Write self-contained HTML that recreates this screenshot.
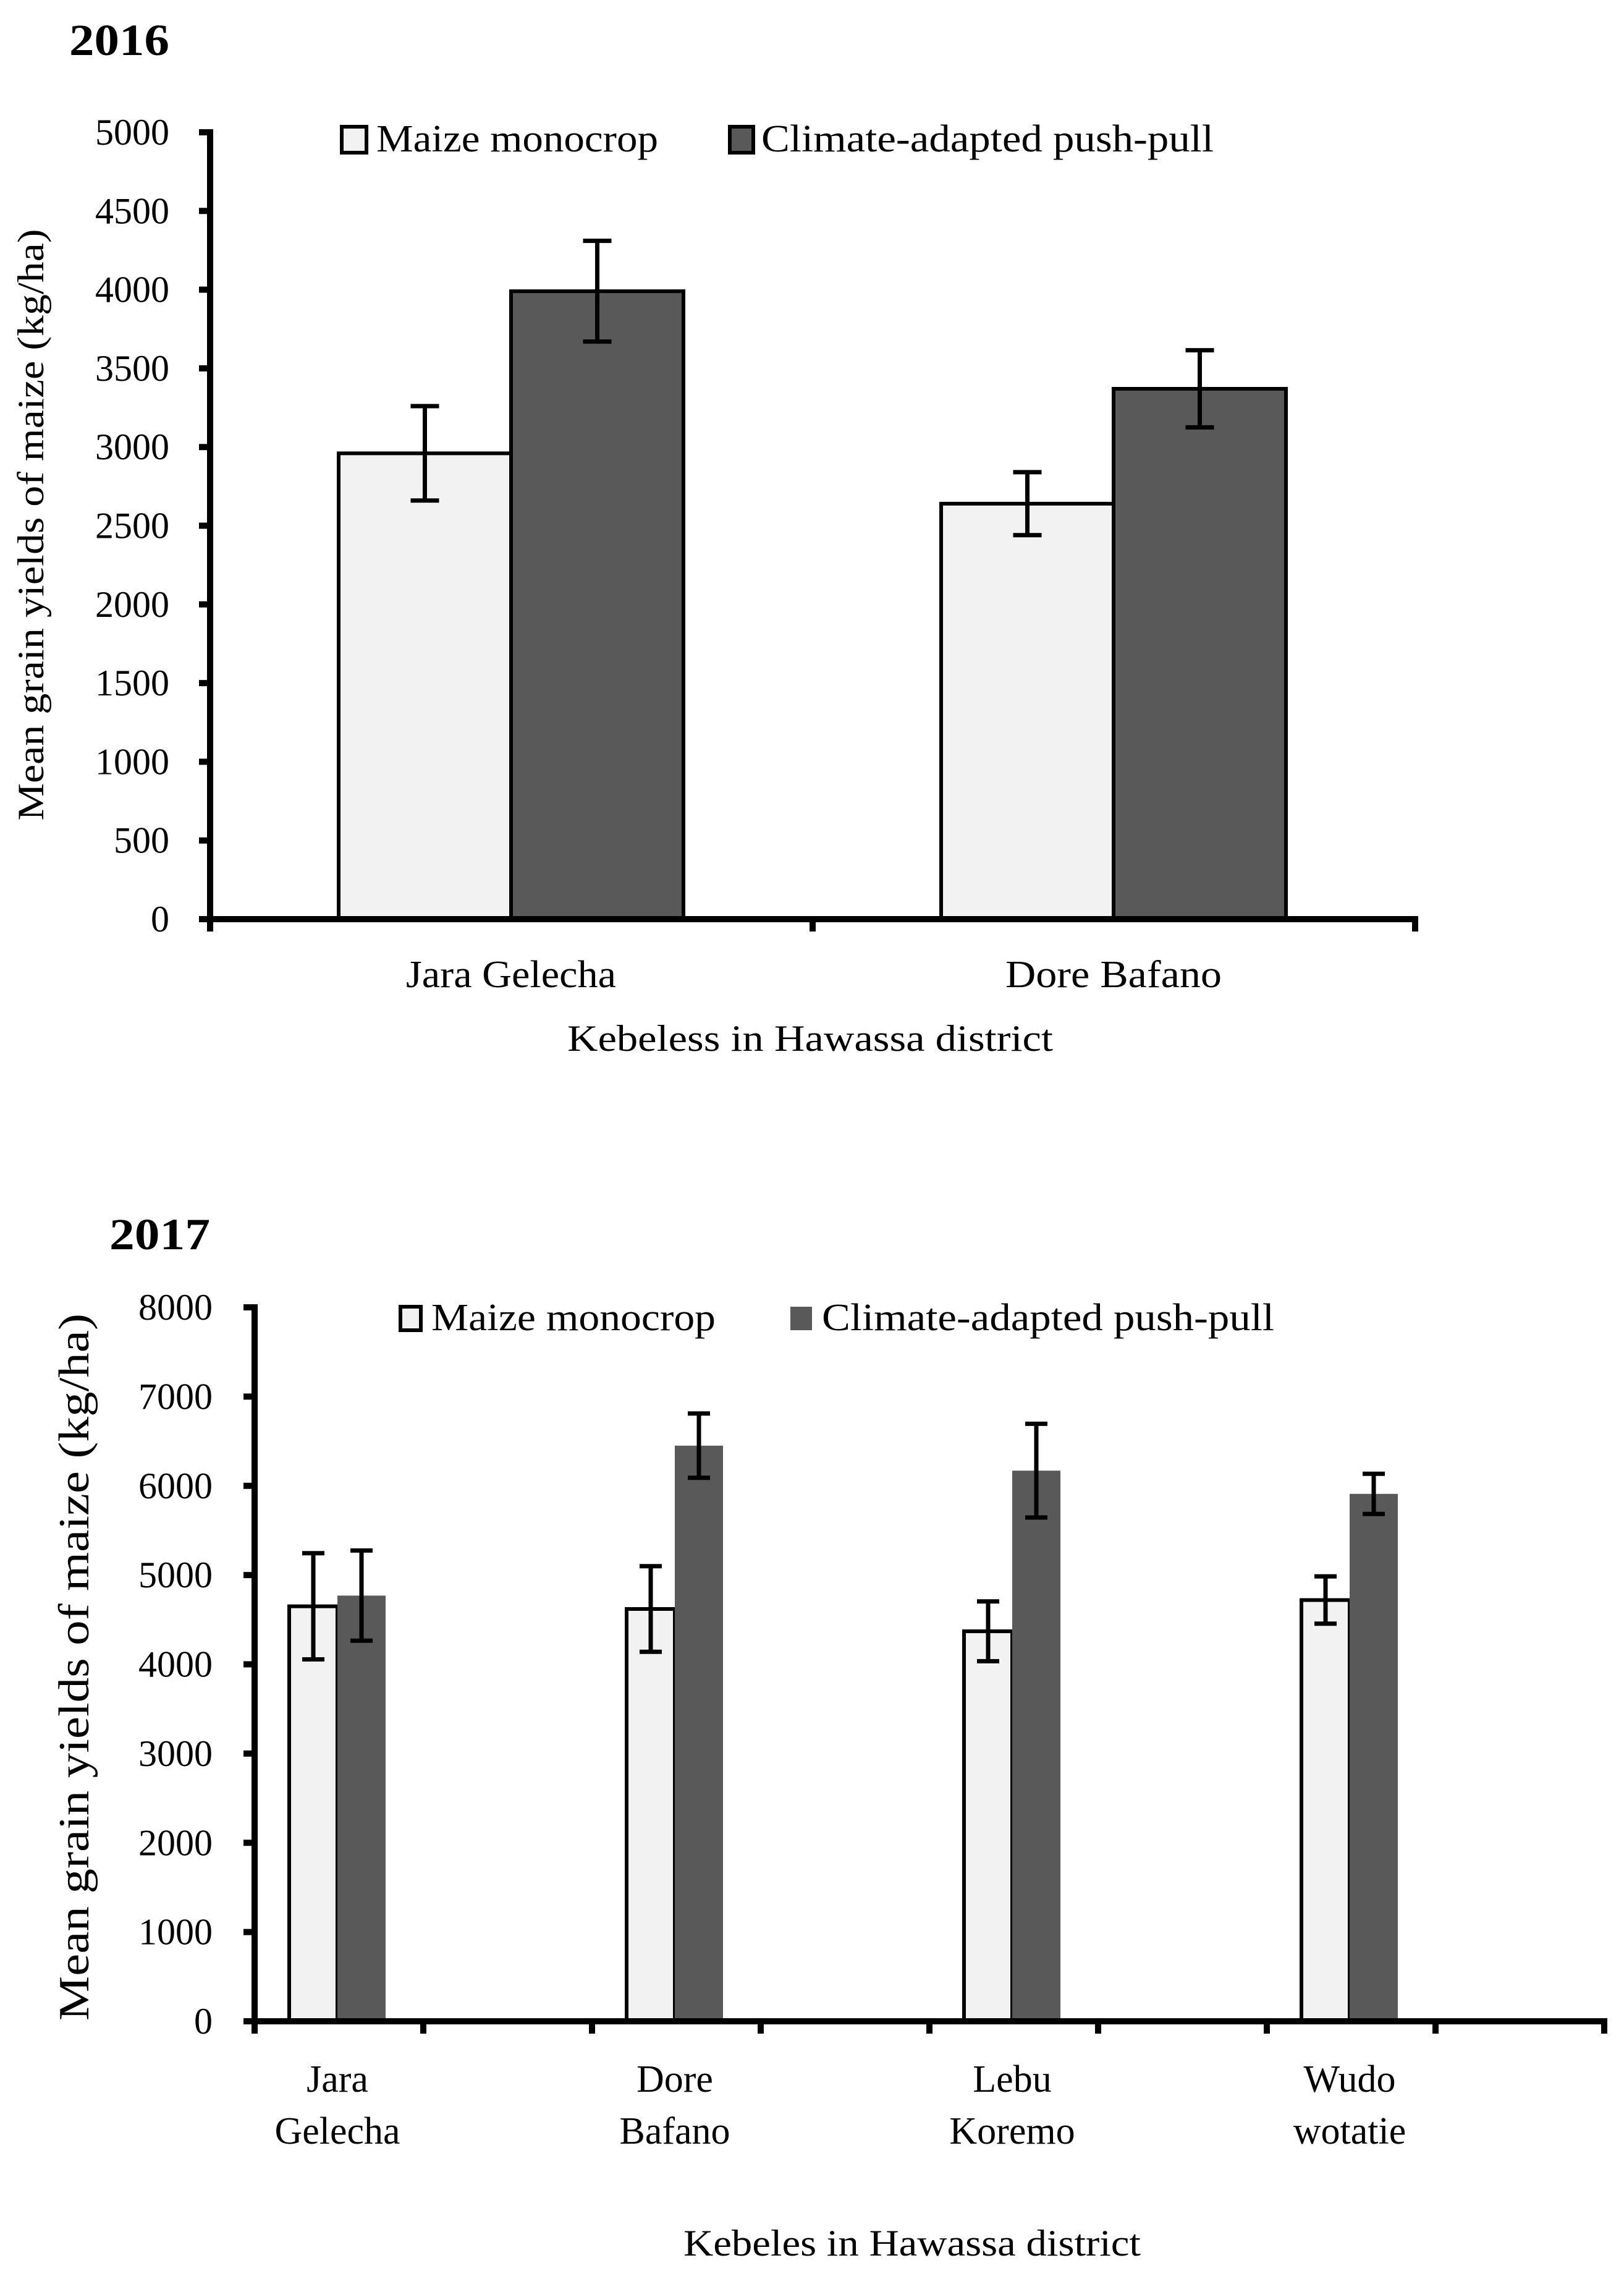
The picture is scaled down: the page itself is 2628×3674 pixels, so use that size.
<!DOCTYPE html>
<html><head><meta charset="utf-8"><style>
html,body{margin:0;padding:0;background:#fff;}
svg{display:block;font-family:"Liberation Serif",serif;}
</style></head><body>
<svg id="svg" width="2628" height="3674" viewBox="0 0 2628 3674" xmlns="http://www.w3.org/2000/svg">
<g id="c1"></g>
<g id="c2"></g>
</svg>
<script>
const cats2016 = ["Jara Gelecha", "Dore Bafano"];
const mono2016 = [2960, 2640];
const monoErr2016 = [300, 200];
const pp2016 = [3990, 3370];
const ppErr2016 = [320, 245];
const ticks2016 = [0,500,1000,1500,2000,2500,3000,3500,4000,4500,5000];

const cats2017 = [["Jara","Gelecha"],["Dore","Bafano"],["Lebu","Koremo"],["Wudo","wotatie"]];
const mono2017 = [4650, 4620, 4370, 4720];
const monoErr2017 = [595, 480, 335, 265];
const pp2017 = [4770, 6450, 6170, 5910];
const ppErr2017 = [505, 360, 525, 225];
const ticks2017 = [0,1000,2000,3000,4000,5000,6000,7000,8000];

const NS="http://www.w3.org/2000/svg";
function mk(parent, tag, attrs, text){
  const e=document.createElementNS(NS,tag);
  for(const k in attrs) e.setAttribute(k,attrs[k]);
  if(text!==undefined) e.textContent=text;
  parent.appendChild(e); return e;
}

function drawChart(g, o){
  const y = v => o.y0 - (v/o.max)*(o.y0-o.yTop);
  const cx = i => o.x0 + o.catW*i + o.off;
  o.mono.forEach((v,i)=>{
    const r=mk(g,'rect',{x:cx(i)-o.bw,y:y(v),width:o.bw,height:o.y0-y(v),fill:'#f2f2f2',stroke:'#000','stroke-width':6});
    
    
  });
  o.pp.forEach((v,i)=>{
    const r=mk(g,'rect',{x:cx(i),y:y(v),width:o.bw,height:o.y0-y(v),fill:'#595959',stroke:o.ppStroke?'#000':'none','stroke-width':6});
    
    
  });
  const eb=(xc,v,e,name)=>{
    const eg=mk(g,'g',{stroke:'#000','stroke-width':7});
    
    
    mk(eg,'line',{x1:xc,x2:xc,y1:y(v-e),y2:y(v+e)});
    mk(eg,'line',{x1:xc-o.cap,x2:xc+o.cap,y1:y(v-e),y2:y(v-e)});
    mk(eg,'line',{x1:xc-o.cap,x2:xc+o.cap,y1:y(v+e),y2:y(v+e)});
  };
  o.mono.forEach((v,i)=>eb(cx(i)-o.bw/2,v,o.monoErr[i],'error-bar-monocrop-'+i));
  o.pp.forEach((v,i)=>eb(cx(i)+o.bw/2,v,o.ppErr[i],'error-bar-push-pull-'+i));
  const ax=mk(g,'g',{stroke:'#000','stroke-width':10});
  
  
  mk(ax,'line',{x1:o.x0,x2:o.x0,y1:o.yTop-5,y2:o.y0+20});
  mk(ax,'line',{x1:o.x0-18,x2:o.xEnd+5,y1:o.y0,y2:o.y0});
  o.ticks.forEach(t=>{
    mk(ax,'line',{x1:o.x0-18,x2:o.x0,y1:y(t),y2:y(t)});
    const tl=mk(g,'text',{x:o.tickRight,y:y(t)+20,'text-anchor':'end','font-size':60},t);
    
    
  });
  for(let i=0;i<=o.nX;i++){
    const xx=o.x0+(o.xEnd-o.x0)*i/o.nX;
    mk(ax,'line',{x1:xx,x2:xx,y1:o.y0,y2:o.y0+20});
  }
  return cx;
}

(function(){
  const g=document.getElementById('c1');
  const cx=drawChart(g,{x0:340,xEnd:2290,y0:1487,yTop:214,max:5000,catW:975,off:487,bw:279,cap:23,
    mono:mono2016,monoErr:monoErr2016,pp:pp2016,ppErr:ppErr2016,ticks:ticks2016,tickRight:274,nX:2,ppStroke:true});
  const lens=[340,350];
  cats2016.forEach((c,i)=>{
    const t=mk(g,'text',{x:cx(i),y:1597,'text-anchor':'middle','font-size':62,textLength:lens[i],lengthAdjust:'spacingAndGlyphs'},c);
    
    
  });
})();

(function(){
  const g=document.getElementById('c2');
  const cx=drawChart(g,{x0:412,xEnd:2596,y0:3270,yTop:2115,max:8000,catW:546,off:134,bw:78,cap:18,
    mono:mono2017,monoErr:monoErr2017,pp:pp2017,ppErr:ppErr2017,ticks:ticks2017,tickRight:344,nX:8,ppStroke:false});
  cats2017.forEach((c,i)=>{
    const t=mk(g,'text',{x:cx(i),y:3384,'text-anchor':'middle','font-size':62},c[0]);
    
    
    const t2=mk(g,'text',{x:cx(i),y:3468,'text-anchor':'middle','font-size':62},c[1]);
    
    
  });
})();

const s=document.getElementById('svg');
s.insertAdjacentHTML('beforeend',`
<text x="112" y="89" font-size="72" font-weight="bold" textLength="162" lengthAdjust="spacingAndGlyphs">2016</text>
<rect x="553" y="205" width="40" height="42" fill="#f2f2f2" stroke="#000" stroke-width="6"/>
<text x="609" y="245" font-size="62" textLength="456" lengthAdjust="spacingAndGlyphs">Maize monocrop</text>
<rect x="1181" y="205" width="38" height="42" fill="#595959" stroke="#000" stroke-width="6"/>
<text x="1232" y="245" font-size="62" textLength="732" lengthAdjust="spacingAndGlyphs">Climate-adapted push-pull</text>
<text x="1311" y="1700" font-size="60" text-anchor="middle" textLength="786" lengthAdjust="spacingAndGlyphs">Kebeless in Hawassa  district</text>
<text transform="translate(70,849) rotate(-90)" font-size="60" text-anchor="middle" textLength="957" lengthAdjust="spacingAndGlyphs">Mean grain yields of maize (kg/ha)</text>

<text x="177" y="2021" font-size="72" font-weight="bold" textLength="163" lengthAdjust="spacingAndGlyphs">2017</text>
<rect x="648" y="2114" width="33" height="38" fill="#f2f2f2" stroke="#000" stroke-width="6"/>
<text x="698" y="2152" font-size="62" textLength="460" lengthAdjust="spacingAndGlyphs">Maize monocrop</text>
<rect x="1279" y="2114" width="35" height="38" fill="#595959"/>
<text x="1330" y="2152" font-size="62" textLength="732" lengthAdjust="spacingAndGlyphs">Climate-adapted push-pull</text>
<text x="1476" y="3649" font-size="60" text-anchor="middle" textLength="740" lengthAdjust="spacingAndGlyphs">Kebeles in Hawassa district</text>
<text transform="translate(143,2697) rotate(-90)" font-size="70" text-anchor="middle" textLength="1144" lengthAdjust="spacingAndGlyphs">Mean grain yields of maize (kg/ha)</text>
`);
</script>
</body></html>
